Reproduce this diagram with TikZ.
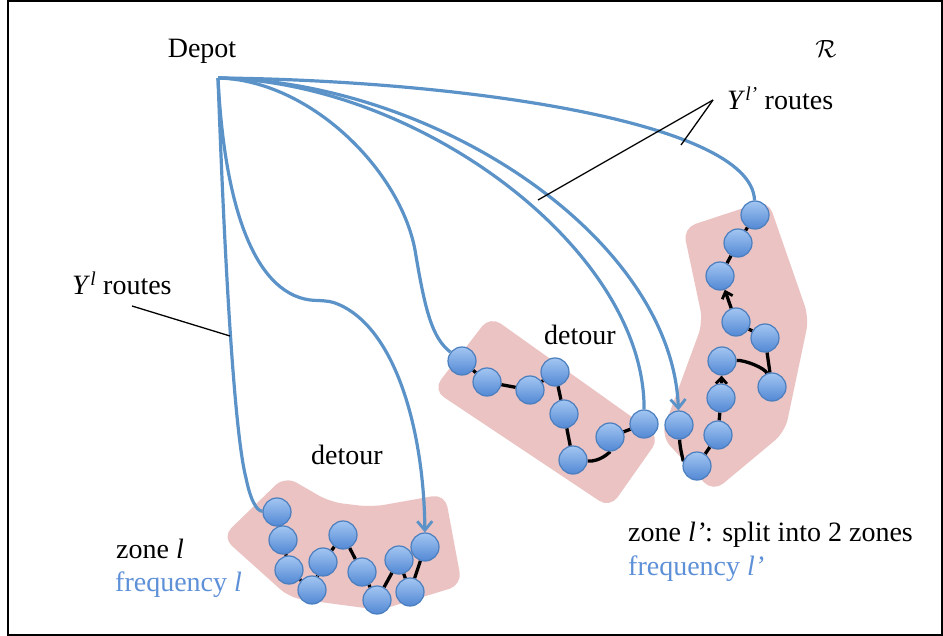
\documentclass[tikz,border=0pt]{standalone}
\usepackage{fontspec}
\setmainfont{Liberation Serif}
\usetikzlibrary{arrows.meta}
\definecolor{routeblue}{HTML}{5B93C8}
\definecolor{zonefill}{HTML}{EBC3C3}
\definecolor{freqblue}{HTML}{5E90D8}
\definecolor{ballhi}{HTML}{A3C6F2}
\definecolor{balllo}{HTML}{5288D4}
\definecolor{ballrim}{HTML}{4A7EBE}
\pgfdeclarelayer{zones}
\pgfdeclarelayer{lines}
\pgfsetlayers{zones,lines,main}
\begin{document}
\begin{tikzpicture}[x=1pt,y=-1pt,
  stop/.style={circle, minimum size=28pt, inner sep=0pt, draw=ballrim, line width=1.2pt,
    top color=ballhi, bottom color=balllo},
  zone/.style={fill=zonefill, rounded corners=13pt},
  route/.style={draw=routeblue, line width=3.2pt},
  routearrow/.style={route, -{Straight Barb[length=9pt,width=15pt,line width=2.8pt]}},
  tour/.style={draw=black, line width=3.3pt},
  tourarrow/.style={tour, -{Straight Barb[length=6pt,width=11pt,line width=2.8pt]}},
  leader/.style={draw=black, line width=1.3pt},
  lbl/.style={font=\fontsize{28}{32}\selectfont, inner sep=0pt},
]
\useasboundingbox (0,0) rectangle (943,636);
\draw[line width=2pt] (7.5,1) rectangle (942,634.5);

% zones
\begin{pgfonlayer}{zones}
\fill[zone] (222,537) -- (285,476) -- (330,502) -- (372,507) -- (445,494)
  -- (462,585) -- (380,610) -- (290,598) -- cycle;
\fill[zone] (490,316) -- (660,437) -- (610,508) -- (433,390) -- cycle;
\fill[zone] (683,228) -- (768,200) -- (809,318) -- (785,432) -- (713,492)
  -- (661,436) -- (703,322) -- cycle;
\end{pgfonlayer}

% stops of zone l
\path
  (277,512) node[stop] (l1) {}
  (283,540) node[stop] (l2) {}
  (289,570) node[stop] (l3) {}
  (312,590) node[stop] (l4) {}
  (323,562) node[stop] (l5) {}
  (343,535) node[stop] (l6) {}
  (362,572) node[stop] (l7) {}
  (377,600) node[stop] (l8) {}
  (399,560) node[stop] (l9) {}
  (410,592) node[stop] (l10) {}
  (425,547) node[stop] (l11) {};
% stops of the first part of zone l'
\path
  (462,361) node[stop] (m1) {}
  (487,382) node[stop] (m2) {}
  (530,390) node[stop] (m3) {}
  (555,372) node[stop] (m4) {}
  (564,414) node[stop] (m5) {}
  (573,460) node[stop] (m6) {}
  (610,437) node[stop] (m7) {}
  (644,424) node[stop] (m8) {};
% stops of the second part of zone l'
\path
  (755,215) node[stop] (r1) {}
  (738,243) node[stop] (r2) {}
  (720,276) node[stop] (r3) {}
  (736,322) node[stop] (r4) {}
  (765,338) node[stop] (r5) {}
  (722,361) node[stop] (r6) {}
  (772,387) node[stop] (r7) {}
  (721,398) node[stop] (r8) {}
  (718,435) node[stop] (r9) {}
  (697,466) node[stop] (r10) {}
  (679,425) node[stop] (r11) {};

% labels
\node[lbl, anchor=base] (depot) at (202,58) {Depot};
\node[lbl, anchor=base] (region) at (826,58) {$\mathcal{R}$};
\node[lbl, anchor=base west] (ylp) at (727,110) {\textit{Y}\textsuperscript{\textit{l’}} routes};
\node[lbl, anchor=base west] (yl) at (72,295) {\textit{Y}\textsuperscript{\textit{l}} routes};
\node[lbl, anchor=base] (det1) at (347,464) {detour};
\node[lbl, anchor=base] (det2) at (580,345) {detour};
\node[lbl, anchor=base west] (zl) at (116,558) {zone \textit{l}};
\node[lbl, anchor=base west, text=freqblue] (fl) at (115,591) {frequency \textit{l}};
\node[lbl, anchor=base west] (zlp) at (628,541) {zone \textit{l’}: split into 2 zones};
\node[lbl, anchor=base west, text=freqblue] (flp) at (628,575) {frequency \textit{l’}};

% depot exit point
\coordinate (o) at (218,78);

\begin{pgfonlayer}{lines}
% routes leaving the depot
\draw[route] (o) .. controls (226,300) and (236,440) .. (246,478)
  .. controls (250,498) and (256,511) .. (l1);
\draw[routearrow] (o) .. controls (224,200) and (252,292) .. (310,300)
  .. controls (320,301) and (326,300) .. (335,303)
  .. controls (395,325) and (424,430) .. (l11);
\draw[route] (o) .. controls (310,80) and (400,170) .. (415,250)
  .. controls (425,310) and (432,338) .. (m1);
\draw[route] (o) .. controls (420,82) and (645,250) .. (m8);
\draw[routearrow] (o) .. controls (440,82) and (672,240) .. (r11);
\draw[route] (o) .. controls (450,80) and (752,120) .. (r1);

% tours
\draw[tour] (l1) -- (l2) -- (l3) -- (l4) -- (l5) -- (l6) -- (l7) -- (l8) -- (l9) -- (l10) -- (l11);
\draw[tour] (m1) -- (m2) -- (m3) -- (m4) -- (m5) -- (m6);
\draw[tour] (m6) .. controls (600,462) and (610,452) .. (m7);
\draw[tour] (m7) -- (m8);
\draw[tour] (r1) -- (r2) -- (r3);
\draw[tourarrow] (r4) -- (r3);
\draw[tour] (r4) -- (r5) -- (r7);
\draw[tour] (r6) .. controls (745,360) and (765,368) .. (r7);
\draw[tourarrow] (r8) -- (r6);
\draw[tour] (r8) -- (r9) -- (r10);
\draw[tour] (r11) .. controls (680,450) and (684,462) .. (r10);
\end{pgfonlayer}

% leader lines
\coordinate (ylptip) at (713,100);
\coordinate (yltip) at (132,306);
\draw[leader] (ylptip) -- (538,200);
\draw[leader] (ylptip) -- (681,145);
\draw[leader] (yltip) -- (230,336);
\end{tikzpicture}
\end{document}
